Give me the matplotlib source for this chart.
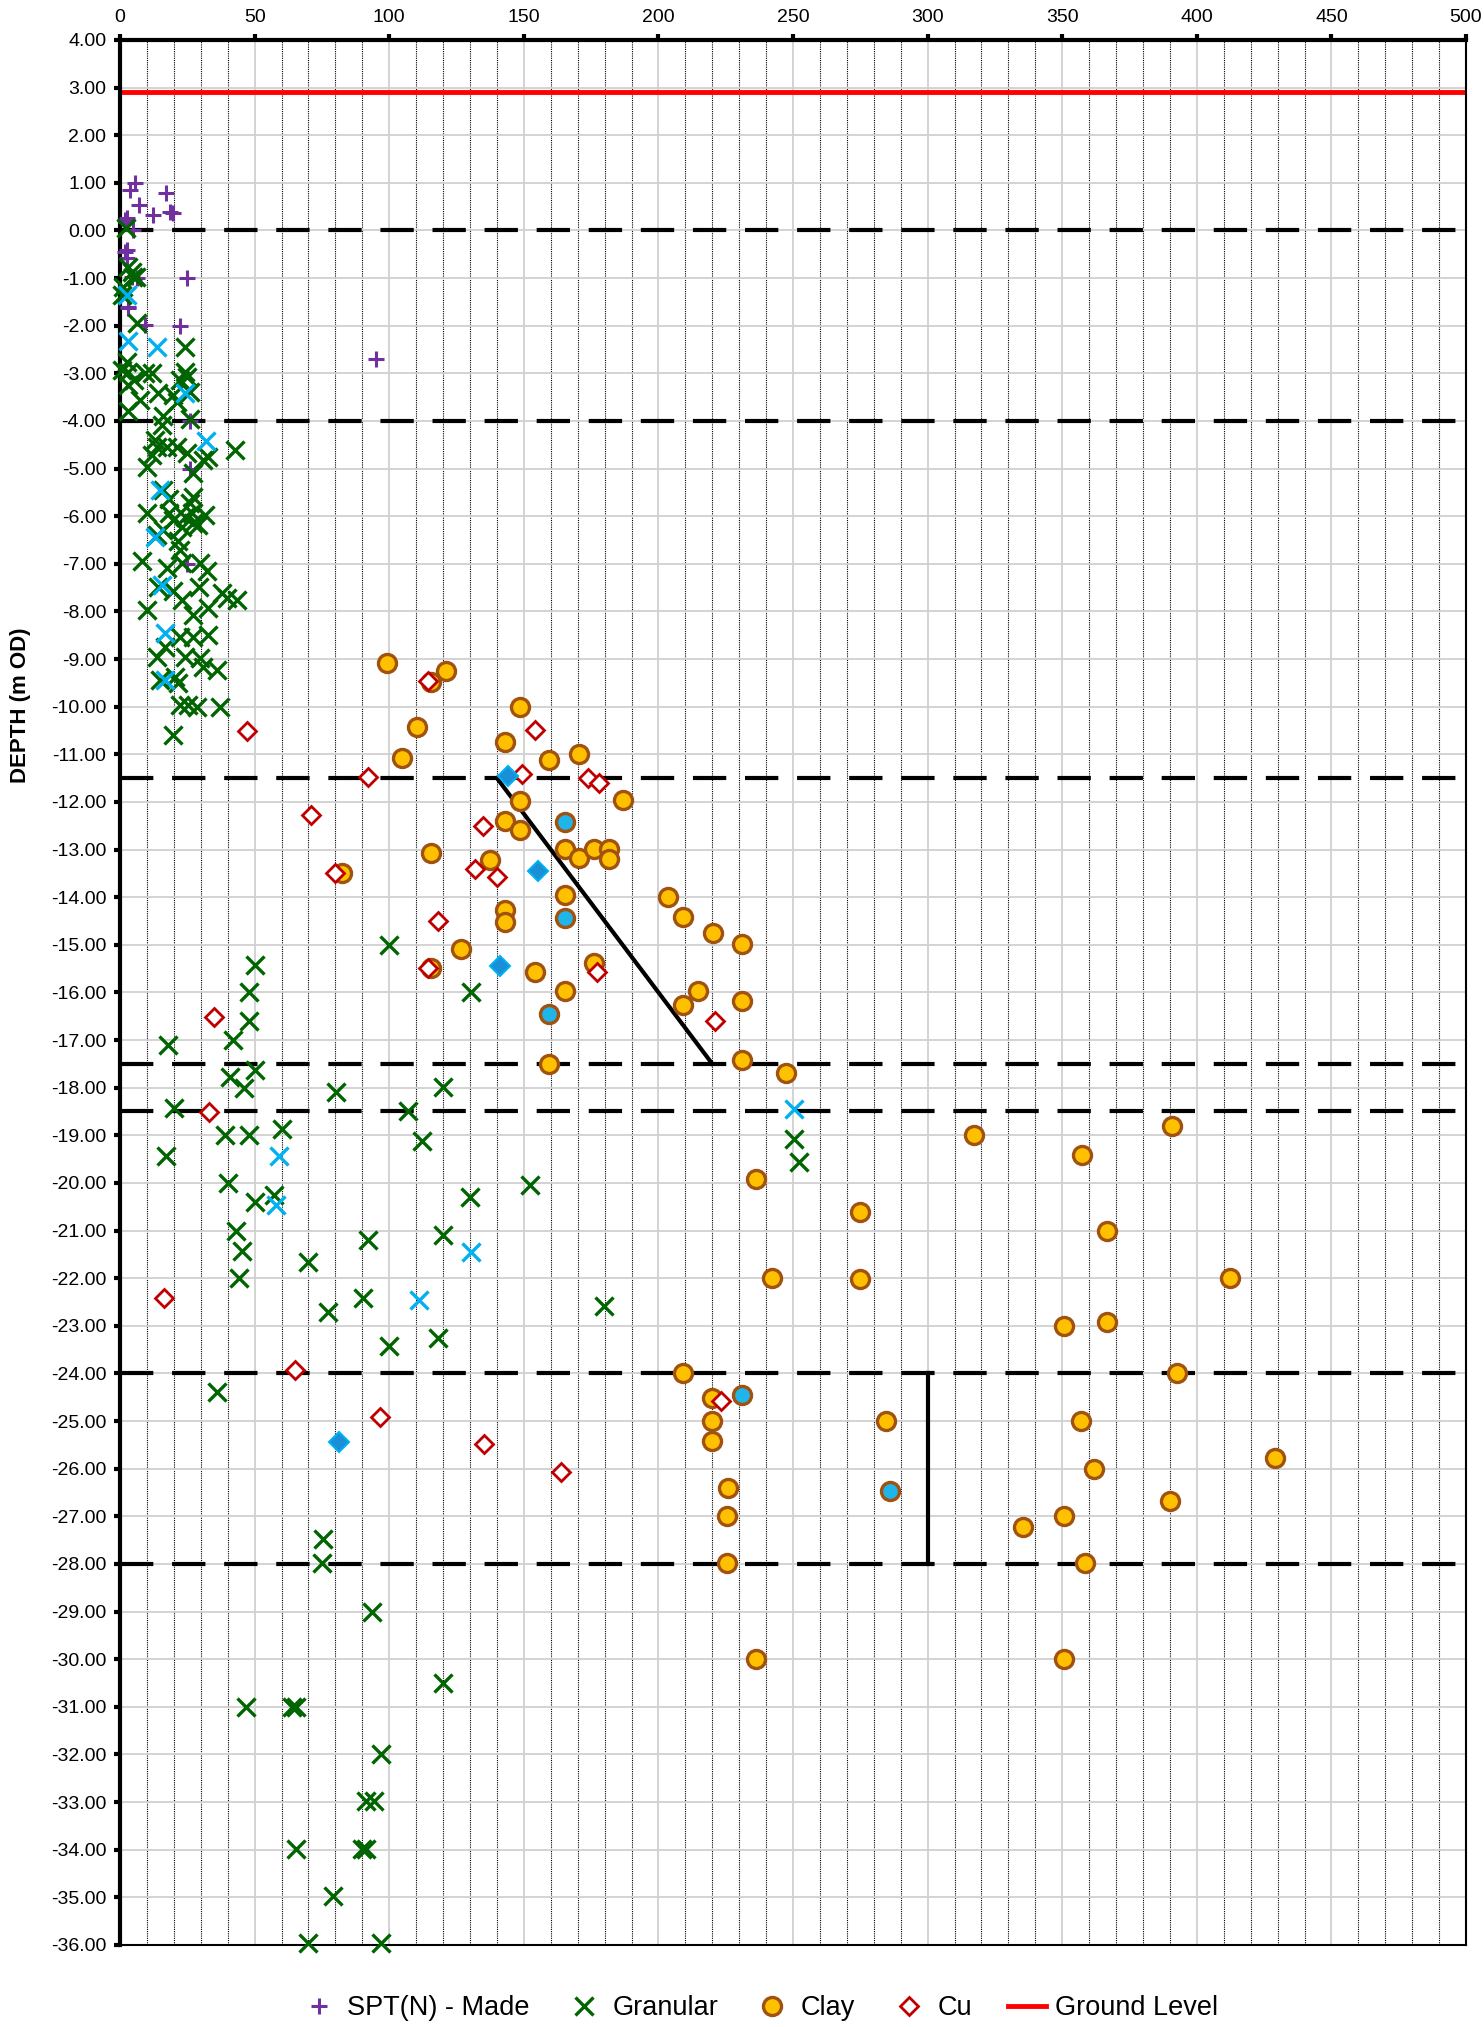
import matplotlib
matplotlib.use('Agg')
import matplotlib.pyplot as plt
from matplotlib.ticker import MultipleLocator, FormatStrFormatter

plt.rcParams['font.family'] = ['Liberation Sans', 'DejaVu Sans']

# SPT(N) - Made ground (purple +)
made_n = [3.7, 5.6, 17, 7.2, 12.2, 18.5, 19.7, 2.5, 2.3, 4.9, 1.9, 2.5, 4.4, 6.2,
          25, 3.1, 9.3, 22.3, 95, 26, 26, 25, 1.9, 2.5, 3.1]
made_d = [0.85, 1.0, 0.79, 0.54, 0.33, 0.39, 0.37, 0.26, 0.17, 0.0, -0.45, -0.58, -0.97, -1.0,
          -1.0, -1.63, -1.98, -2.0, -2.7, -4.0, -5.0, -7.0, 0.22, -0.41, -1.6]

# Granular (green x)
gran_n = [2.2, 3.1, 4.9, 6, 1.2, 0.6, 4.3,
          6.2, 24.1, 2.5, 3.1, 0.6, 9.3, 11.8, 5, 3.1, 7.4, 14.2, 3.1, 24.1, 22.3, 24.8, 19.8, 26,
          21, 16, 26, 15.5, 13, 13.6, 17.3, 21, 24.8, 30.9, 32.8, 27.2, 9.9, 11.8, 42.7, 16, 18,
          27.2, 26, 9.9, 18, 19.8, 24.1, 26.6, 31.6, 27.2, 29, 23, 16, 13.6, 21.6, 22.3, 8, 22.9,
          29.7, 32.2, 17.3, 14.2, 29.2, 19.8, 23, 37.8, 39.6, 43.3, 32.8, 9.9, 27.2, 22.3, 27.2,
          32.8, 16.7, 13.6, 24.1, 29.7, 30.9, 35.9, 14.9, 20.4, 21.6, 22.3, 25.4, 28.5, 37.1, 19.8,
          100, 50.1, 48, 130.3, 48, 42.1, 17.9, 50.1, 40.9, 46.2, 80.1, 120.1, 20, 107.1, 39, 48,
          60, 112, 17, 40, 50.1, 57.2, 130, 43.1, 45.2, 44, 70, 92, 120.1, 77.1, 90.1, 100, 118,
          35.9, 152.4, 179.7, 250.4, 252.3,
          75.5, 75, 93.7, 120, 46.7, 64, 65.4, 97.1, 91.3, 94.3, 90, 91.3, 65.4, 79, 69.7, 97.1]
gran_d = [0.05, -0.76, -0.97, -0.97, -1.18, -1.35, -0.87,
          -1.94, -2.44, -2.76, -2.97, -2.93, -3.0, -3.0, -3.14, -3.25, -3.56, -3.42, -3.8, -2.97,
          -3.14, -3.07, -3.45, -3.4, -3.6, -3.9, -3.95, -4.08, -4.4, -4.54, -4.54, -4.54, -4.68,
          -4.82, -4.75, -5.1, -4.96, -4.72, -4.61, -5.45, -5.63, -5.59, -5.73, -5.94, -5.94, -6.08,
          -6.01, -5.94, -5.97, -6.15, -6.18, -6.22, -6.29, -6.4, -6.53, -6.71, -6.95, -6.99, -6.99,
          -7.16, -7.09, -7.48, -7.48, -7.58, -7.76, -7.62, -7.72, -7.76, -7.93, -7.97, -8.07, -8.53,
          -8.53, -8.5, -8.74, -8.95, -8.95, -8.98, -9.16, -9.23, -9.44, -9.37, -9.51, -9.96, -9.96,
          -10.0, -10.0, -10.59,
          -15.0, -15.42, -16.0, -16.0, -16.61, -17.0, -17.1, -17.63, -17.77, -18.01, -18.1, -17.99,
          -18.43, -18.5, -19.0, -19.0, -18.87, -19.13, -19.43, -20.0, -20.41, -20.25, -20.29, -21.0,
          -21.43, -22.0, -21.67, -21.2, -21.09, -22.7, -22.42, -23.42, -23.26, -24.38, -20.05,
          -22.58, -19.08, -19.57,
          -27.47, -27.99, -29.02, -30.5, -31.0, -31.0, -31.0, -32.0, -32.98, -32.98, -33.98, -33.98,
          -33.98, -34.98, -35.96, -35.96]

# Granular, second set (light blue x)
gran2_n = [2.5, 3.1, 13.6, 24.1, 32, 14.9, 13, 15.5, 16.7, 16.7, 59.2, 58, 130.4, 111.2, 250.3]
gran2_d = [-1.35, -2.33, -2.44, -3.42, -4.43, -5.45, -6.43, -7.44, -8.46, -9.44, -19.44, -20.46,
           -21.45, -22.46, -18.45]

# Clay (orange circles)
clay_n = [99.3, 115.5, 121.1, 148.6, 110.2, 143.0, 104.6, 159.5, 170.6, 148.6, 187.0, 143.0,
          148.6, 165.1, 170.6, 176.1, 181.6, 181.6, 115.5, 137.6, 82.6, 165.1, 143.0, 143.0, 203.4,
          209.0, 220.2, 231.1, 126.6, 115.5, 154.0, 176.1, 165.1, 214.6, 209.0, 231.1, 159.5,
          231.0, 247.4, 317.2, 390.6, 357.4, 236.4, 274.9, 366.5, 242.1, 274.9, 412.5, 350.8,
          366.5, 209.0, 392.8, 220.0, 220.0, 220.0, 284.4, 357.0, 429.0, 361.8, 225.7, 390.1,
          225.3, 225.3, 335.3, 350.6, 358.3, 236.4, 350.6]
clay_d = [-9.09, -9.49, -9.26, -10.0, -10.42, -10.74, -11.08, -11.13, -10.99, -11.99, -11.96,
          -12.41, -12.59, -12.99, -13.17, -12.99, -12.99, -13.19, -13.08, -13.22, -13.5, -13.95,
          -14.27, -14.53, -13.99, -14.41, -14.76, -14.99, -15.09, -15.49, -15.58, -15.39, -15.96,
          -15.98, -16.26, -16.18, -17.5,
          -17.42, -17.7, -19.0, -18.8, -19.41, -19.92, -20.62, -21.0, -22.0, -22.02, -22.0, -23.0,
          -22.93, -24.0, -24.0, -24.51, -25.0, -25.42, -25.0, -25.0, -25.77, -26.0, -26.41, -26.68,
          -27.0, -27.98, -27.22, -27.0, -27.98, -29.99, -29.99]

# Clay, second set (blue-filled circles)
clay2_n = [165.1, 165.1, 159.5, 231.0, 286.0]
clay2_d = [-12.43, -14.44, -16.45, -24.45, -26.46]

# Cu (open red diamonds)
cu_n = [47, 114.3, 154.2, 92, 149.2, 174, 178.1, 71, 135, 79.9, 131.9, 140.2, 118, 114.3, 177,
        35, 221, 33.1, 16.3, 65, 96.7, 223.3, 135.1, 163.9]
cu_d = [-10.51, -9.47, -10.49, -11.48, -11.41, -11.5, -11.6, -12.27, -12.5, -13.5, -13.41,
        -13.58, -14.5, -15.49, -15.58, -16.51, -16.59, -18.51, -22.41, -23.93, -24.92, -24.57,
        -25.49, -26.06]

# Cu, second set (filled blue diamonds)
cu2_n = [144.0, 155.2, 141.2, 81.3]
cu2_d = [-11.45, -13.44, -15.45, -25.43]

ground_level = 2.9
strata_levels = [0, -4, -11.5, -17.5, -18.5, -24, -28]
trend_n = [140, 220]
trend_d = [-11.5, -17.5]
const_n = [300, 300]
const_d = [-24, -28]

fig = plt.figure(figsize=(14.84, 20.27), dpi=100)
ax = fig.add_axes([0.0809, 0.0405, 0.9070, 0.9398])

ax.set_xlim(0, 500)
ax.set_ylim(-36, 4)
ax.xaxis.tick_top()
ax.xaxis.set_major_locator(MultipleLocator(50))
ax.xaxis.set_minor_locator(MultipleLocator(10))
ax.yaxis.set_major_locator(MultipleLocator(1))
ax.yaxis.set_major_formatter(FormatStrFormatter('%.2f'))

# gridlines
ax.grid(which='major', axis='both', color='#d0d0d0', lw=1.3, zorder=0)
ax.grid(which='minor', axis='x', color='black', lw=0.8, ls=(0, (1, 1)), zorder=0)
ax.set_axisbelow(True)

# strata boundaries and lines
for lvl in strata_levels:
    ax.plot([0, 500], [lvl, lvl], color='black', lw=3, dashes=(8, 4.5), zorder=2)
ax.plot(trend_n, trend_d, color='black', lw=3, zorder=2)
ax.plot(const_n, const_d, color='black', lw=3, zorder=2)
gl, = ax.plot([0, 500], [ground_level, ground_level], color='#ff0000', lw=3.5, zorder=2,
              label='Ground Level')

# data series
made, = ax.plot(made_n, made_d, ls='none', marker='+', ms=11, mew=2.2, color='#7030a0',
                clip_on=False, zorder=3, label='SPT(N) - Made')
gran, = ax.plot(gran_n, gran_d, ls='none', marker='x', ms=12.5, mew=2.4, color='#006400',
                clip_on=False, zorder=4, label='Granular')
ax.plot(gran2_n, gran2_d, ls='none', marker='x', ms=12.5, mew=2.4, color='#00b0f0',
        clip_on=False, zorder=4)
clay, = ax.plot(clay_n, clay_d, ls='none', marker='o', ms=13, mew=2.4, mfc='#ffc000',
                mec='#a0520e', clip_on=False, zorder=5, label='Clay')
ax.plot(clay2_n, clay2_d, ls='none', marker='o', ms=13, mew=2.4, mfc='#1fb4ea',
        mec='#a0520e', clip_on=False, zorder=5)
cu, = ax.plot(cu_n, cu_d, ls='none', marker='D', ms=9.5, mew=2, mfc='white', mec='#c00000',
              clip_on=False, zorder=6, label='Cu')
ax.plot(cu2_n, cu2_d, ls='none', marker='D', ms=10, mew=1.5, mfc='#1a8fd8', mec='#00b0f0',
        clip_on=False, zorder=6)

# axes style
for side in ['left', 'top']:
    ax.spines[side].set_linewidth(3)
for side in ['right', 'bottom']:
    ax.spines[side].set_linewidth(1.5)
ax.tick_params(axis='both', which='major', direction='out', length=4, width=3,
               labelsize=14, pad=6)
ax.tick_params(axis='x', which='minor', length=0)
ax.tick_params(axis='x', labelsize=14)

ax.set_ylabel('DEPTH (m OD)', fontsize=16, fontweight='bold')
ax.yaxis.set_label_coords(-0.066, 0.651)

fig.legend(handles=[made, gran, clay, cu, gl], loc='center',
           bbox_to_anchor=(759 / 1484, 1 - 2008 / 2027), ncol=5, frameon=False,
           fontsize=19.5, handlelength=1.4, handletextpad=0.35, columnspacing=1.3,
           markerscale=1.0)

fig.savefig('out.png', dpi=100)
